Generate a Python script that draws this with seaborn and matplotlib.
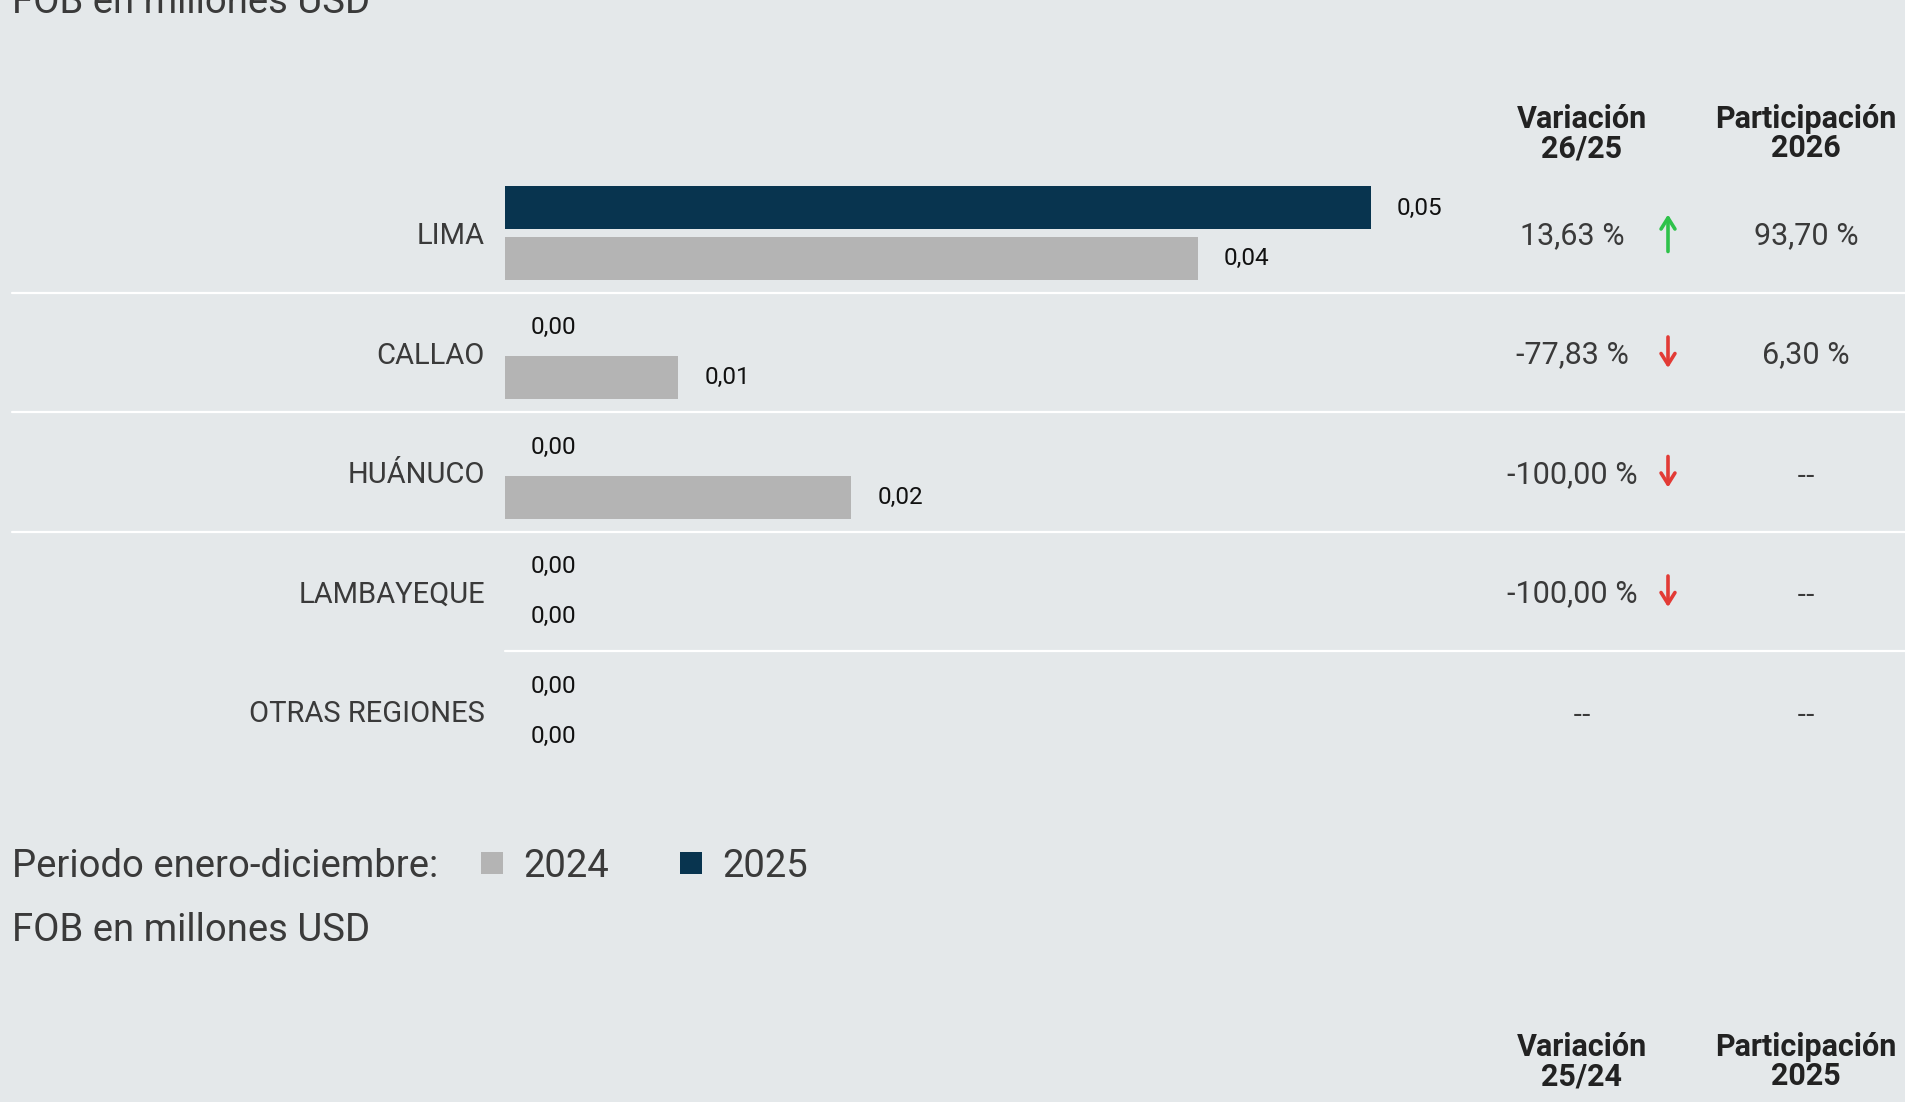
import matplotlib
matplotlib.use("Agg")
import matplotlib.pyplot as plt
import matplotlib.transforms as mtransforms
from matplotlib.patches import Rectangle
import seaborn as sns
import pandas as pd

# --- data ---
regions = ["LIMA", "CALLAO", "HUÁNUCO", "LAMBAYEQUE", "OTRAS REGIONES"]
years = ["2025", "2024"]
fob_2025 = [0.050, 0.000, 0.000, 0.000, 0.000]
fob_2024 = [0.040, 0.010, 0.020, 0.000, 0.000]
variation = ["13,63 %", "-77,83 %", "-100,00 %", "-100,00 %", "--"]
trend = ["up", "down", "down", "down", ""]
share = ["93,70 %", "6,30 %", "--", "--", "--"]

BG = "#e4e8ea"
NAVY = "#08344f"
GRAY = "#b4b4b4"
GREEN = "#2ec24a"
RED = "#e23b36"
TXT = "#3a3a3a"

sns.set_style("white")
plt.rcParams["font.family"] = ["Roboto", "DejaVu Sans"]

df = pd.DataFrame({
    "region": regions * 2,
    "anio": ["2025"] * len(regions) + ["2024"] * len(regions),
    "fob": fob_2025 + fob_2024,
})

W, H = 1906, 1102
fig = plt.figure(figsize=(W / 100, H / 100), dpi=100, facecolor=BG)

# bar area: x from 505px to 1371px, rows 119.5px apart
row_h = 119.5
top = 233 - row_h / 2
ax = fig.add_axes([505 / W, 1 - (top + len(regions) * row_h) / H,
                   866 / W, len(regions) * row_h / H])
ax.set_facecolor(BG)

sns.barplot(data=df, x="fob", y="region", hue="anio", hue_order=years,
            palette={"2025": NAVY, "2024": GRAY}, orient="h",
            width=0.837, gap=0.14, saturation=1, legend=False,
            edgecolor="none", linewidth=0, ax=ax)

ax.set_xlim(0, 0.05)
ax.set_ylim(len(regions) - 0.5, -0.5)
ax.set_xlabel("")
ax.set_ylabel("")
ax.set_xticks([])
sns.despine(ax=ax, left=True, bottom=True)
ax.tick_params(axis="y", length=0, pad=14.4, labelsize=21, labelcolor=TXT)

# value labels next to each bar
for c in ax.containers:
    ax.bar_label(c, labels=[f"{v:.2f}".replace(".", ",") for v in c.datavalues],
                 padding=18.7, fontsize=17.5, color="#111111")

# white row separators
x0 = (12 - 505) / 866
x1 = (W - 505) / 866
for y in [0.5, 1.5, 2.5]:
    ax.plot([x0, x1], [y, y], transform=ax.get_yaxis_transform(),
            color="white", lw=1.6, clip_on=False)
ax.plot([0, x1], [3.5, 3.5], transform=ax.get_yaxis_transform(),
        color="white", lw=1.6, clip_on=False)

# table columns
blend = mtransforms.blended_transform_factory(fig.transFigure, ax.transData)
x_var_num = 1572 / W
x_var_hdr = 1582 / W
x_arrow = 1668 / W
x_share = 1806 / W


def cell(txt, x, i):
    fam = ["DejaVu Sans"] if txt == "--" else ["Roboto", "DejaVu Sans"]
    size = 19 if txt == "--" else 22
    ax.annotate(txt, xy=(x, i), xycoords=blend, xytext=(0, -7.9),
                textcoords="offset points", ha="center", va="baseline",
                fontsize=size, color=TXT, family=fam)


for i in range(len(regions)):
    cell(variation[i], x_var_num if variation[i] != "--" else x_var_hdr, i)
    cell(share[i], x_share, i)
    if trend[i] == "up":
        ax.annotate("", xy=(x_arrow, i - 0.155), xycoords=blend,
                    xytext=(x_arrow, i + 0.155), textcoords=blend,
                    arrowprops=dict(arrowstyle="->,head_length=0.8,head_width=0.5",
                                    color=GREEN, lw=2.6, shrinkA=0, shrinkB=0,
                                    mutation_scale=10))
    elif trend[i] == "down":
        ax.annotate("", xy=(x_arrow, i + 0.13), xycoords=blend,
                    xytext=(x_arrow, i - 0.13), textcoords=blend,
                    arrowprops=dict(arrowstyle="->,head_length=0.8,head_width=0.5",
                                    color=RED, lw=2.6, shrinkA=0, shrinkB=0,
                                    mutation_scale=10))

# column headers (top block and the next block peeking at the bottom)
hdr = dict(ha="center", va="baseline", fontsize=22, fontweight="bold", color="#222222")
for (l1, l2, l3, l4), (b1, b2) in [(("Variación", "26/25", "Participación", "2026"), (128, 157)),
                                   (("Variación", "25/24", "Participación", "2025"), (1056, 1085))]:
    fig.text(x_var_hdr, 1 - b1 / H, l1, **hdr)
    fig.text(x_var_hdr, 1 - b2 / H, l2, **hdr)
    fig.text(x_share, 1 - b1 / H, l3, **hdr)
    fig.text(x_share, 1 - b2 / H, l4, **hdr)

# subtitle cut at the top edge
fig.text(12 / W, 1 - 13 / H, "FOB en millones USD", ha="left", va="baseline",
         fontsize=27.5, color=TXT)

# legend row
fig.text(12 / W, 1 - 877 / H, "Periodo enero-diciembre:", ha="left", va="baseline",
         fontsize=27.5, color=TXT)
for x_sw, x_lab, col, lab in [(481, 523, GRAY, "2024"), (680, 722, NAVY, "2025")]:
    fig.add_artist(Rectangle((x_sw / W, 1 - 874 / H), 22 / W, 22 / H,
                             transform=fig.transFigure, facecolor=col, edgecolor="none"))
    fig.text(x_lab / W, 1 - 877 / H, lab, ha="left", va="baseline",
             fontsize=27.5, color=TXT)

fig.text(12 / W, 1 - 941 / H, "FOB en millones USD", ha="left", va="baseline",
         fontsize=27.5, color=TXT)

fig.savefig("out.png", dpi=100, facecolor=BG)
plt.close(fig)
